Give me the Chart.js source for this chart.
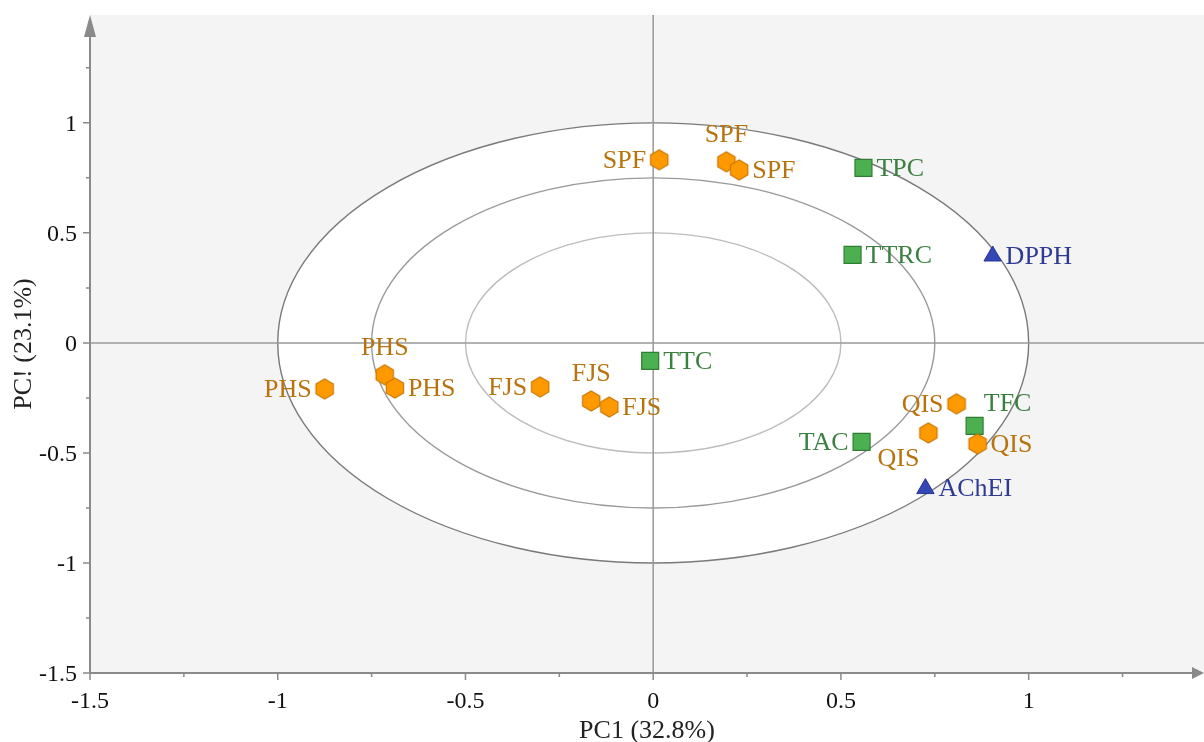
<!DOCTYPE html>
<html>
<head>
<meta charset="utf-8">
<script src="https://cdn.jsdelivr.net/npm/chart.js@4/dist/chart.umd.min.js"></script>
<style>
  html, body { margin: 0; padding: 0; background: #fff; overflow: hidden; }
  #pcaChart { display: block; }
</style>
</head>
<body>
<canvas id="pcaChart" width="1204" height="742"></canvas>
<script>
// samples (orange hexagons)
const sampleLabels = ['SPF','SPF','SPF','PHS','PHS','PHS','FJS','FJS','FJS','QIS','QIS','QIS'];
const sampleX = [0.016, 0.195, 0.229, -0.875, -0.715, -0.688, -0.301, -0.165, -0.117, 0.808, 0.733, 0.864];
const sampleY = [0.832, 0.823, 0.786, -0.209, -0.145, -0.205, -0.200, -0.264, -0.291, -0.277, -0.409, -0.459];

// compounds (green squares)
const compLabels = ['TPC','TTRC','TTC','TFC','TAC'];
const compX = [0.560, 0.531, -0.008, 0.856, 0.555];
const compY = [0.795, 0.400, -0.082, -0.377, -0.450];

// activities (blue triangles)
const actLabels = ['DPPH','AChEI'];
const actX = [0.904, 0.725];
const actY = [0.395, -0.662];

// axis ticks + correlation circles
const xTicks = [-1.5,-1.25,-1,-0.75,-0.5,-0.25,0,0.25,0.5,0.75,1,1.25];
const yTicks = [-1.5,-1.25,-1,-0.75,-0.5,-0.25,0,0.25,0.5,0.75,1,1.25];
const circleRadii = [1, 0.75, 0.5];

// where each label sits relative to its marker
const samplePos = ['left','top','right','left','top','right','left','top','right','left','bottomLeft','right'];
const compPos = ['right','right','right','topRight','left'];
const actPos = ['right','right'];

const SERIF = '"Liberation Serif", "Times New Roman", serif';

function toPoints(xs, ys) {
    return xs.map((x, i) => ({ x, y: ys[i] }));
}

function isMajor(v) {
    return Math.abs(v * 2 - Math.round(v * 2)) < 1e-6;
}

// hexagon marker (pointy top)
function hexagon(r, fill, stroke) {
    const c = document.createElement('canvas');
    const s = Math.ceil(r * 2 + 4);
    c.width = s; c.height = s;
    const g = c.getContext('2d');
    g.beginPath();
    for (let k = 0; k < 6; k++) {
        const a = -Math.PI / 2 + k * Math.PI / 3;
        const px = s / 2 + r * Math.cos(a), py = s / 2 + r * Math.sin(a);
        k ? g.lineTo(px, py) : g.moveTo(px, py);
    }
    g.closePath();
    g.fillStyle = fill; g.fill();
    g.lineWidth = 1.2; g.strokeStyle = stroke; g.stroke();
    return c;
}

const hexImg = hexagon(10, '#ff9900', '#c87800');

function noPad(s) {
    s.paddingTop = 0; s.paddingBottom = 0;
    s.paddingLeft = 0; s.paddingRight = 0;
}

const backdrop = {
    id: 'backdrop',
    beforeDatasetsDraw(chart) {
        const { ctx, chartArea: a, scales: { x, y } } = chart;
        const x0 = x.getPixelForValue(0), y0 = y.getPixelForValue(0);
        ctx.save();
        ctx.fillStyle = '#f4f4f4';
        ctx.fillRect(a.left, a.top, a.right - a.left, a.bottom - a.top);

        // white inside the unit circle
        const rx1 = x.getPixelForValue(1) - x0, ry1 = y0 - y.getPixelForValue(1);
        ctx.beginPath();
        ctx.ellipse(x0, y0, rx1, ry1, 0, 0, Math.PI * 2);
        ctx.fillStyle = '#ffffff';
        ctx.fill();

        const strokes = ['#7a7a7a', '#9a9a9a', '#bdbdbd'];
        circleRadii.forEach((r, i) => {
            const rx = x.getPixelForValue(r) - x0, ry = y0 - y.getPixelForValue(r);
            ctx.beginPath();
            ctx.ellipse(x0, y0, rx, ry, 0, 0, Math.PI * 2);
            ctx.lineWidth = 1.4;
            ctx.strokeStyle = strokes[i];
            ctx.stroke();
        });

        // zero lines
        ctx.strokeStyle = '#999';
        ctx.lineWidth = 1.5;
        ctx.beginPath();
        ctx.moveTo(x0, a.top); ctx.lineTo(x0, a.bottom);
        ctx.moveTo(a.left, y0); ctx.lineTo(a.right, y0);
        ctx.stroke();

        // axis lines + arrows
        ctx.strokeStyle = '#8a8a8a';
        ctx.fillStyle = '#8a8a8a';
        ctx.lineWidth = 2;
        ctx.beginPath();
        ctx.moveTo(a.left, a.bottom); ctx.lineTo(a.left, a.top + 20);
        ctx.moveTo(a.left, a.bottom); ctx.lineTo(a.right - 10, a.bottom);
        ctx.stroke();
        ctx.beginPath();
        ctx.moveTo(a.left, a.top); ctx.lineTo(a.left - 6, a.top + 22); ctx.lineTo(a.left + 6, a.top + 22);
        ctx.closePath(); ctx.fill();
        ctx.beginPath();
        ctx.moveTo(a.right, a.bottom); ctx.lineTo(a.right - 12, a.bottom - 6); ctx.lineTo(a.right - 12, a.bottom + 6);
        ctx.closePath(); ctx.fill();

        // tick marks, major longer than minor
        ctx.lineWidth = 1.5;
        ctx.beginPath();
        x.ticks.forEach(t => {
            const px = x.getPixelForValue(t.value);
            const len = isMajor(t.value) ? 7 : 4;
            ctx.moveTo(px, a.bottom); ctx.lineTo(px, a.bottom + len);
        });
        y.ticks.forEach(t => {
            const py = y.getPixelForValue(t.value);
            const len = isMajor(t.value) ? 7 : 4;
            ctx.moveTo(a.left, py); ctx.lineTo(a.left - len, py);
        });
        ctx.stroke();

        // tick labels (majors only)
        ctx.fillStyle = '#111';
        ctx.font = '24px ' + SERIF;
        ctx.textBaseline = 'middle';
        ctx.textAlign = 'center';
        x.ticks.forEach(t => {
            if (isMajor(t.value)) ctx.fillText(String(t.value), x.getPixelForValue(t.value), a.bottom + 29);
        });
        ctx.textAlign = 'right';
        y.ticks.forEach(t => {
            if (isMajor(t.value)) ctx.fillText(String(t.value), a.left - 13, y.getPixelForValue(t.value) + 2);
        });
        ctx.restore();
    }
};

const pointLabels = {
    id: 'pointLabels',
    afterDatasetsDraw(chart) {
        const { ctx } = chart;
        ctx.save();
        ctx.font = '26px ' + SERIF;
        chart.data.datasets.forEach((ds, di) => {
            const meta = chart.getDatasetMeta(di);
            meta.data.forEach((el, i) => {
                const pos = ds.labelPos[i];
                let dx = 0, dy = 1, align = 'center';
                if (pos === 'left') { dx = -13; align = 'right'; }
                else if (pos === 'right') { dx = 13; align = 'left'; }
                else if (pos === 'top') { dy = -27; }
                else if (pos === 'bottomLeft') { dx = -30; dy = 26; }
                else if (pos === 'topRight') { dx = 33; dy = -22; }
                ctx.fillStyle = ds.labelColor;
                ctx.textAlign = align;
                ctx.textBaseline = 'middle';
                ctx.fillText(ds.names[i], el.x + dx, el.y + dy);
            });
        });
        ctx.restore();
    }
};

new Chart(document.getElementById('pcaChart').getContext('2d'), {
    type: 'scatter',
    data: {
        datasets: [
            {
                label: 'Samples',
                data: toPoints(sampleX, sampleY),
                names: sampleLabels,
                labelPos: samplePos,
                labelColor: '#b8730f',
                pointStyle: hexImg,
                order: 0
            },
            {
                label: 'Compounds',
                data: toPoints(compX, compY),
                names: compLabels,
                labelPos: compPos,
                labelColor: '#3b8040',
                pointStyle: 'rect',
                pointRadius: 12,
                backgroundColor: '#4caf50',
                borderColor: '#2f7d32',
                borderWidth: 1.2,
                order: 1
            },
            {
                label: 'Activities',
                data: toPoints(actX, actY),
                names: actLabels,
                labelPos: actPos,
                labelColor: '#2e3a94',
                pointStyle: 'triangle',
                pointRadius: 10,
                backgroundColor: '#3448b4',
                borderColor: '#26349a',
                borderWidth: 1,
                order: 2
            }
        ]
    },
    options: {
        responsive: false,
        animation: false,
        layout: { autoPadding: false, padding: { top: 15, right: 0, left: 0, bottom: 0 } },
        plugins: { legend: { display: false }, tooltip: { enabled: false } },
        scales: {
            x: {
                type: 'linear',
                min: -1.5,
                max: 1.467,
                afterBuildTicks: s => { s.ticks = xTicks.map(v => ({ value: v })); },
                afterFit: s => { s.height = 69; noPad(s); },
                grid: { display: false, drawTicks: false },
                border: { display: false },
                ticks: { display: false },
                title: {
                    display: true,
                    text: 'PC1 (32.8%)',
                    color: '#222',
                    font: { family: SERIF, size: 26 },
                    padding: { top: 0, bottom: -5 }
                }
            },
            y: {
                type: 'linear',
                min: -1.5,
                max: 1.49,
                afterBuildTicks: s => { s.ticks = yTicks.map(v => ({ value: v })); },
                afterFit: s => { s.width = 90; noPad(s); },
                grid: { display: false, drawTicks: false },
                border: { display: false },
                ticks: { display: false },
                title: {
                    display: true,
                    text: 'PC! (23.1%)',
                    color: '#222',
                    font: { family: SERIF, size: 26 },
                    padding: { top: 9, bottom: 0 }
                }
            }
        }
    },
    plugins: [backdrop, pointLabels]
});
</script>
</body>
</html>
